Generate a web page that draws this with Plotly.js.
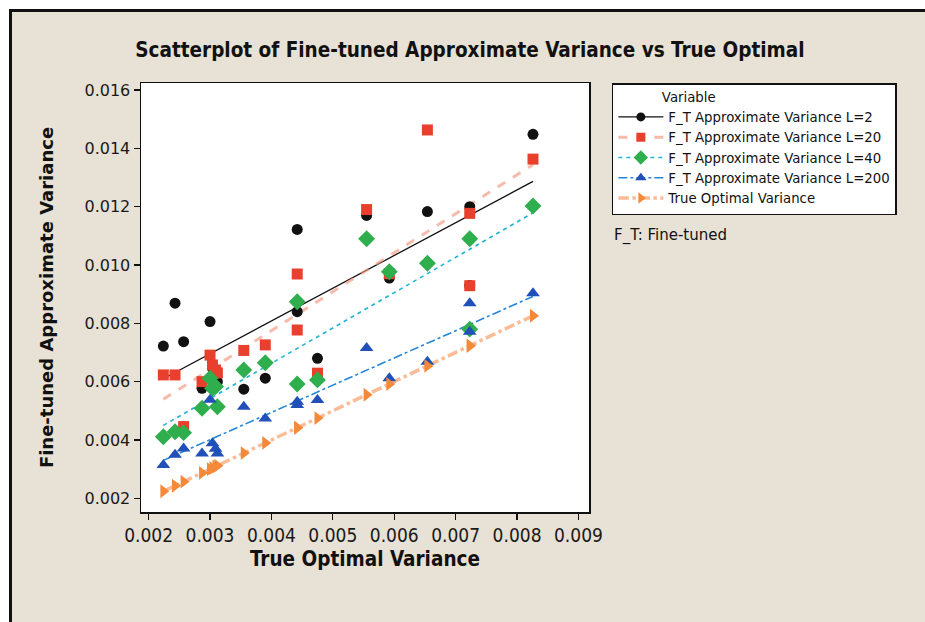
<!DOCTYPE html>
<html>
<head>
<meta charset="utf-8">
<script src="https://cdn.plot.ly/plotly-3.0.1.min.js"></script>
<style>
  html, body { margin: 0; padding: 0; background: #ffffff; }
  #wrap { position: relative; width: 925px; height: 622px; overflow: hidden; }
  #chart { position: absolute; left: 0; top: 0; width: 925px; height: 622px; }
  .strip { position: absolute; background: #ffffff; }
  .edge { position: absolute; background: #111111; }
</style>
</head>
<body>
<div id="wrap">
  <div id="chart"></div>
  <div class="strip" style="left:0;top:0;width:925px;height:9px;"></div>
  <div class="strip" style="left:0;top:0;width:9px;height:622px;"></div>
  <div class="edge" style="left:9px;top:9px;width:916px;height:3px;"></div>
  <div class="edge" style="left:9px;top:9px;width:3px;height:613px;"></div>
</div>
<script>
// ---- data ----
const trueOptimal = [0.00224, 0.00243, 0.00257, 0.00287, 0.00300, 0.00304, 0.00309, 0.00312,
                     0.00355, 0.00390, 0.00442, 0.00442, 0.00475, 0.00555, 0.00592, 0.00654,
                     0.00723, 0.00723, 0.00826];
const approxL2   = [0.00722, 0.00869, 0.00737, 0.00577, 0.00806, 0.00646, 0.00590, 0.00600,
                    0.00574, 0.00612, 0.01122, 0.00840, 0.00680, 0.01170, 0.00955, 0.01183,
                    0.01200, 0.00930, 0.01448];
const approxL20  = [0.00623, 0.00623, 0.00446, 0.00600, 0.00691, 0.00657, 0.00640, 0.00630,
                    0.00707, 0.00726, 0.00969, 0.00777, 0.00629, 0.01190, 0.00970, 0.01463,
                    0.01177, 0.00929, 0.01363];
const approxL40  = [0.00411, 0.00428, 0.00425, 0.00509, 0.00612, 0.00577, 0.00583, 0.00514,
                    0.00640, 0.00665, 0.00874, 0.00592, 0.00606, 0.01090, 0.00977, 0.01006,
                    0.01090, 0.00780, 0.01202];
const approxL200 = [0.00314, 0.00349, 0.00371, 0.00354, 0.00538, 0.00389, 0.00370, 0.00354,
                    0.00514, 0.00474, 0.00531, 0.00520, 0.00537, 0.00715, 0.00612, 0.00668,
                    0.00869, 0.00771, 0.00903];
const seriesNames = ["F_T Approximate Variance L=2", "F_T Approximate Variance L=20",
                     "F_T Approximate Variance L=40", "F_T Approximate Variance L=200",
                     "True Optimal Variance"];
const chartTitle = "Scatterplot of Fine-tuned Approximate Variance vs True Optimal";
const xTitle = "True Optimal Variance";
const yTitle = "Fine-tuned Approximate Variance";
const noteText = "F_T: Fine-tuned";

// ---- styles ----
const seriesY = [approxL2, approxL20, approxL40, approxL200, trueOptimal];
const markerStyles = [
  {symbol: "circle", color: "#111111", size: 11},
  {symbol: "square", color: "#e8402c", size: 11},
  {symbol: "diamond", color: "#2fae4e", size: 13},
  {symbol: "triangle-up", color: "#2050b8", size: 12},
  {symbol: "triangle-right", color: "#f5893a", size: 12}
];
const lineStyles = [
  {color: "#111111", width: 1.3, dash: "solid"},
  {color: "rgba(242,150,128,0.65)", width: 3, dash: "dash"},
  {color: "#1db4d6", width: 1.6, dash: "4px,4px"},
  {color: "#2386d8", width: 1.6, dash: "dashdot"},
  {color: "rgba(248,160,105,0.7)", width: 3.5, dash: "dashdot"}
];

function ols(x, y) {
  const n = x.length;
  let mx = 0, my = 0;
  for (let i = 0; i < n; i++) { mx += x[i]; my += y[i]; }
  mx /= n; my /= n;
  let sxy = 0, sxx = 0;
  for (let i = 0; i < n; i++) { sxy += (x[i]-mx)*(y[i]-my); sxx += (x[i]-mx)*(x[i]-mx); }
  const b = sxy / sxx;
  return {a: my - b*mx, b: b};
}

const xmin = Math.min(...trueOptimal), xmax = Math.max(...trueOptimal);
const traces = [];
// fit lines
seriesY.forEach((ys, k) => {
  const f = ols(trueOptimal, ys);
  traces.push({
    x: [xmin, xmax], y: [f.a + f.b*xmin, f.a + f.b*xmax],
    mode: "lines", line: lineStyles[k], showlegend: false, hoverinfo: "skip"
  });
});
// points
seriesY.forEach((ys, k) => {
  traces.push({
    x: trueOptimal, y: ys, mode: "markers",
    marker: {symbol: markerStyles[k].symbol, color: markerStyles[k].color,
             size: markerStyles[k].size, line: {width: 0}},
    showlegend: false, name: seriesNames[k]
  });
});
// legend entries
seriesY.forEach((ys, k) => {
  traces.push({
    x: [null], y: [null], mode: "lines+markers", name: seriesNames[k],
    line: lineStyles[k],
    marker: {symbol: markerStyles[k].symbol, color: markerStyles[k].color,
             size: markerStyles[k].size - 2, line: {width: 0}},
    showlegend: true
  });
});

const tickFontY = {family: "DejaVu Sans, Verdana, sans-serif", size: 16, color: "#1a1a1a"};
const tickFontX = {family: "Liberation Sans Narrow, DejaVu Sans Condensed, Arial Narrow, sans-serif", size: 19, color: "#1a1a1a"};

const layout = {
  width: 925, height: 622,
  paper_bgcolor: "#e8e1d5", plot_bgcolor: "#ffffff",
  margin: {l: 141, r: 336, t: 83, b: 110},
  title: {
    text: "<b>" + chartTitle + "</b>",
    xref: "container", x: 0.508, xanchor: "center",
    yref: "container", y: 1 - 50/622, yanchor: "middle",
    font: {family: "Liberation Sans Narrow, DejaVu Sans Condensed, Arial Narrow, sans-serif", size: 20.5, color: "#111111"}
  },
  xaxis: {
    range: [0.001876, 0.009172],
    tick0: 0.002, dtick: 0.001, tickformat: ".3f",
    ticks: "outside", ticklen: 6, tickcolor: "#111", tickwidth: 1.2,
    showline: true, mirror: true, linecolor: "#111", linewidth: 1.5,
    showgrid: false, zeroline: false,
    tickfont: tickFontX,
    title: {text: "<b>" + xTitle + "</b>", standoff: 6,
            font: {family: "Liberation Sans Narrow, DejaVu Sans Condensed, Arial Narrow, sans-serif", size: 20.5, color: "#111"}}
  },
  yaxis: {
    range: [0.00153, 0.01624],
    tick0: 0.002, dtick: 0.002, tickformat: ".3f",
    ticks: "outside", ticklen: 6, tickcolor: "#111", tickwidth: 1.2,
    showline: true, mirror: true, linecolor: "#111", linewidth: 1.5,
    showgrid: false, zeroline: false,
    tickfont: tickFontY,
    title: {text: "<b>" + yTitle + "</b>", standoff: 26,
            font: {family: "DejaVu Sans, Verdana, sans-serif", size: 18, color: "#111"}}
  },
  legend: {
    x: 1.051, xanchor: "left", y: 1.0, yanchor: "top",
    bgcolor: "#ffffff", bordercolor: "#111", borderwidth: 1.5,
    font: {family: "DejaVu Sans, Verdana, sans-serif", size: 13.3, color: "#111"},
    itemwidth: 45, tracegroupgap: 0,
    title: {text: "\u00a0\u00a0\u00a0\u00a0\u00a0\u00a0\u00a0\u00a0\u00a0\u00a0\u00a0Variable",
            font: {family: "DejaVu Sans, Verdana, sans-serif", size: 13.3, color: "#111"}}
  },
  annotations: [{
    text: noteText, xref: "paper", yref: "paper",
    x: 1.051, y: (512-235)/429, xanchor: "left", yanchor: "middle",
    showarrow: false,
    font: {family: "DejaVu Sans, Verdana, sans-serif", size: 15, color: "#111"}
  }]
};

Plotly.newPlot("chart", traces, layout, {displayModeBar: false, staticPlot: true});
</script>
</body>
</html>
